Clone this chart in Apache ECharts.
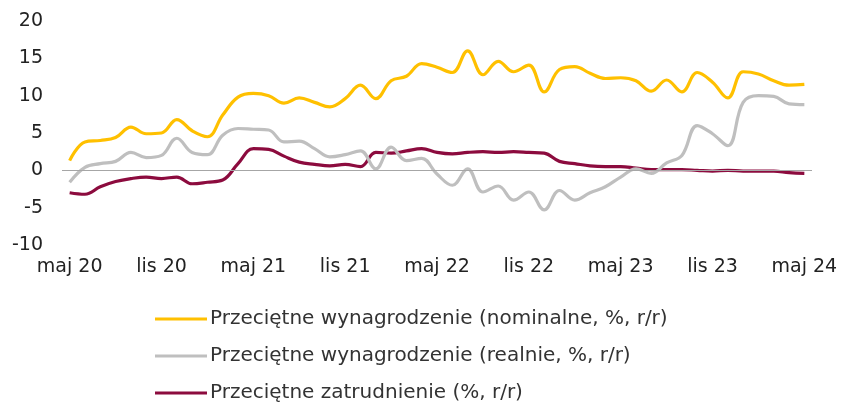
<!DOCTYPE html>
<html>
<head>
<meta charset="utf-8">
<script src="https://cdn.jsdelivr.net/npm/echarts@6/dist/echarts.min.js"></script>
<style>
  html, body { margin: 0; padding: 0; background: #fff; }
  #chart { width: 854px; height: 403px; }
</style>
</head>
<body>
<div id="chart"></div>
<script>
var months = ['sty', 'lut', 'mar', 'kwi', 'maj', 'cze', 'lip', 'sie', 'wrz', 'paź', 'lis', 'gru'];

// maj 20 .. maj 24, miesięcznie
var categories = [];
for (var y = 2020; y <= 2024; y++) {
    for (var m = 0; m < 12; m++) {
        if ((y == 2020 && m < 4) || (y == 2024 && m > 4)) continue;
        categories.push(months[m] + ' ' + String(y).slice(2));
    }
}

var nominalne = [1.3, 3.8, 4.0, 4.4, 5.8, 4.9, 5.0, 6.8, 5.3, 4.5, 7.4, 9.8, 10.3, 10.0, 9.0,
    9.7, 9.1, 8.5, 9.6, 11.4, 9.6, 12.0, 12.6, 14.3, 13.8, 13.1, 16.0, 12.8, 14.6, 13.2,
    14.1, 10.5, 13.5, 13.9, 13.0, 12.3, 12.4, 12.0, 10.6, 12.1, 10.5, 13.1, 11.8, 9.7,
    13.2, 12.9, 12.0, 11.4, 11.5];
var realnie = [-1.6, 0.4, 0.9, 1.2, 2.4, 1.7, 2.0, 4.3, 2.4, 2.1, 4.7, 5.6, 5.5, 5.4, 3.8,
    3.9, 2.9, 1.8, 2.1, 2.6, 0.2, 3.1, 1.3, 1.6, -0.5, -2.0, 0.2, -2.9, -2.1, -4.0,
    -2.9, -5.3, -2.7, -4.0, -3.0, -2.2, -0.9, 0.2, -0.4, 1.0, 2.0, 6.0, 4.9, 3.3,
    9.1, 10.0, 9.9, 8.9, 8.8];
var zatrudnienie = [-3.0, -3.2, -2.2, -1.5, -1.1, -0.9, -1.1, -0.9, -1.8, -1.6, -1.3, 0.9, 2.9, 2.8, 1.9,
    1.1, 0.8, 0.6, 0.8, 0.5, 2.4, 2.3, 2.6, 2.9, 2.4, 2.2, 2.4, 2.5, 2.4, 2.5,
    2.4, 2.3, 1.2, 0.9, 0.6, 0.5, 0.5, 0.3, 0.1, 0.1, 0.1, 0.0, -0.1, 0.0,
    -0.1, -0.1, -0.1, -0.3, -0.4];

var names = [
    'Przeciętne wynagrodzenie (nominalne, %, r/r)',
    'Przeciętne wynagrodzenie (realnie, %, r/r)',
    'Przeciętne zatrudnienie (%, r/r)'
];
var colors = ['#FFC000', '#BFBFBF', '#8C0B3E'];
var font = 'DejaVu Sans';

var chart = echarts.init(document.getElementById('chart'));

function line(name, data, color, extra) {
    var s = {
        name: name,
        type: 'line',
        data: data,
        smooth: 0.4,
        symbol: 'none',
        lineStyle: { width: 3.2, color: color },
        itemStyle: { color: color }
    };
    return Object.assign(s, extra || {});
}

chart.setOption({
    animation: false,
    textStyle: { fontFamily: font },
    grid: { left: 62, right: 42, top: 21, bottom: 158 },
    legend: {
        orient: 'vertical',
        left: 155,
        top: 309,
        height: 120,
        padding: 0,
        itemWidth: 52,
        itemHeight: 3,
        itemGap: 17,
        icon: 'rect',
        textStyle: { fontFamily: font, fontSize: 20, color: '#333', padding: [0, 0, 0, -2] },
        data: names
    },
    xAxis: {
        type: 'category',
        data: categories,
        boundaryGap: true,
        axisLine: { show: false, onZero: false },
        axisTick: { show: false },
        axisLabel: { interval: 5, fontFamily: font, fontSize: 19, color: '#222', margin: 13 }
    },
    yAxis: {
        type: 'value',
        min: -10,
        max: 20,
        interval: 5,
        splitLine: { show: false },
        axisLine: { show: false },
        axisTick: { show: false },
        axisLabel: { fontFamily: font, fontSize: 19, color: '#222', margin: 19 }
    },
    series: [
        line(names[2], zatrudnienie, colors[2], {
            z: 1,
            markLine: {
                silent: true,
                symbol: 'none',
                label: { show: false },
                lineStyle: { color: '#A6A6A6', width: 1, type: 'solid' },
                data: [{ yAxis: 0 }]
            }
        }),
        line(names[1], realnie, colors[1], { z: 2 }),
        line(names[0], nominalne, colors[0], { z: 3 })
    ]
});
</script>
</body>
</html>
